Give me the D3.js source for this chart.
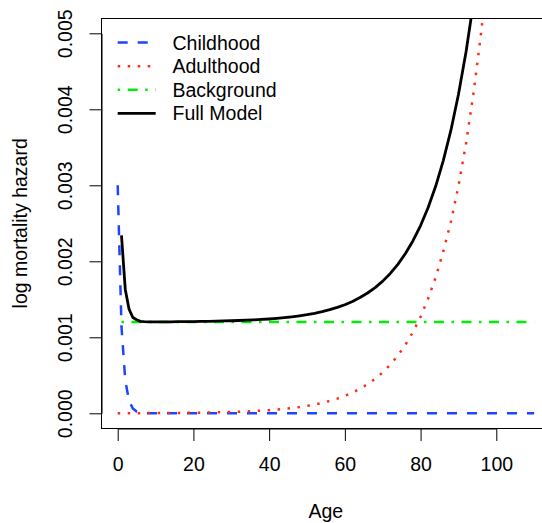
<!DOCTYPE html>
<html>
<head>
<meta charset="utf-8">
<script src="https://cdn.jsdelivr.net/npm/d3@7"></script>
<style>
  html, body { margin: 0; padding: 0; background: #fff; }
  svg { display: block; }
  text { font-family: "Liberation Sans", Arial, Helvetica, sans-serif; fill: #000; }
</style>
</head>
<body>
<svg id="chart" width="542" height="523"></svg>
<script>
// ---------------- data ----------------
const ages = [0,1,2,3,4,5,6,7,8,9,10,
  12,14,16,18,20,22,24,26,28,30,32,34,36,38,40,42,44,46,48,50,
  52,54,56,58,60,62,64,66,68,70,72,74,76,78,80,82,84,86,88,90,
  92,94,96,98,100,102,104,106,108,110];

const childhood = [0.003,0.00114,0.000432,0.000164,0.0000623,0.0000236,0.000009,0.0000034,0.0000013,0.0000005,0.0000002,
  0,0,0,0,0,0,0,0,0,0,0,0,0,0,0,0,0,0,0,0,
  0,0,0,0,0,0,0,0,0,0,0,0,0,0,0,0,0,0,0,0,
  0,0,0,0,0,0,0,0,0,0];

const adulthood = [0.0000013,0.00000146,0.00000159,0.00000173,0.00000189,0.00000206,0.00000224,0.00000244,0.00000266,0.0000029,0.00000316,
  0.00000375,0.00000445,0.00000528,0.00000627,0.00000744,0.00000883,0.0000105,0.0000124,0.0000148,0.0000175,
  0.0000208,0.0000247,0.0000293,0.0000348,0.0000413,0.000049,0.0000581,0.000069,0.0000819,0.0000972,
  0.000115,0.000137,0.000163,0.000193,0.000229,0.000272,0.000323,0.000383,0.000454,0.000539,
  0.00064,0.00076,0.000902,0.00107,0.00127,0.00151,0.00179,0.00213,0.00252,0.00299,
  0.00355,0.00422,0.00501,0.00594,0.00705,0.00837,0.00994,0.0118,0.014,0.0166];

const background = [null,0.0012,0.0012,0.0012,0.0012,0.0012,0.0012,0.0012,0.0012,0.0012,0.0012,
  0.0012,0.0012,0.0012,0.0012,0.0012,0.0012,0.0012,0.0012,0.0012,0.0012,
  0.0012,0.0012,0.0012,0.0012,0.0012,0.0012,0.0012,0.0012,0.0012,0.0012,
  0.0012,0.0012,0.0012,0.0012,0.0012,0.0012,0.0012,0.0012,0.0012,0.0012,
  0.0012,0.0012,0.0012,0.0012,0.0012,0.0012,0.0012,0.0012,0.0012,0.0012,
  0.0012,0.0012,0.0012,0.0012,0.0012,0.0012,0.0012,0.0012,0.0012,0.0012];

const fullModel = [null,0.00234,0.00163,0.00137,0.00126,0.00123,0.00121,0.001206,0.001204,0.001203,0.001203,
  0.001204,0.001204,0.001205,0.001206,0.001207,0.001209,0.00121,0.001212,0.001215,0.001218,
  0.001221,0.001225,0.001229,0.001235,0.001241,0.001249,0.001258,0.001269,0.001282,0.001297,
  0.001315,0.001337,0.001363,0.001393,0.001429,0.001472,0.001523,0.001583,0.001654,0.001739,
  0.00184,0.00196,0.002102,0.002271,0.002471,0.002708,0.00299,0.003325,0.003722,0.004194,
  0.004753,0.005418,0.006206,0.007143,0.008254,0.00957,0.01114,0.013,0.0152,0.0178];

const xTicks = [0,20,40,60,80,100];
const yTicks = [0,0.001,0.002,0.003,0.004,0.005];
const yTickLabels = ["0.000","0.001","0.002","0.003","0.004","0.005"];
const seriesNames = ["Childhood","Adulthood","Background","Full Model"];

// ---------------- layout ----------------
const FS = 19.5;
const box = { left: 101.5, top: 18.5, bottom: 428.5, right: 550 };
const x = d3.scaleLinear().domain([0, 100]).range([117.7, 496.3]);
const y = d3.scaleLinear().domain([0, 0.005]).range([413.3, 33.3]);

const styles = [
  { color: "#1d44ff", dash: "10,10", width: 2.5 },
  { color: "#ff2d14", dash: "2.5,7.5", width: 2.5 },
  { color: "#00ee00", dash: "2.5,7.5,10,7.5", width: 2.5 },
  { color: "#000000", dash: null, width: 2.8 }
];
const seriesData = [childhood, adulthood, background, fullModel];

const svg = d3.select("#chart");

svg.append("defs").append("clipPath").attr("id", "plotclip")
  .append("rect")
  .attr("x", box.left).attr("y", box.top)
  .attr("width", box.right - box.left).attr("height", box.bottom - box.top);

// lines
const plot = svg.append("g").attr("clip-path", "url(#plotclip)");
seriesData.forEach((vals, i) => {
  const pts = ages.map((a, k) => [a, vals[k]]);
  const line = d3.line()
    .defined(d => d[1] !== null)
    .x(d => x(d[0]))
    .y(d => y(d[1]));
  plot.append("path")
    .datum(pts)
    .attr("d", line)
    .attr("fill", "none")
    .attr("stroke", styles[i].color)
    .attr("stroke-width", styles[i].width)
    .attr("stroke-dasharray", styles[i].dash)
    .attr("stroke-linejoin", "round");
});

// box
svg.append("rect")
  .attr("x", box.left).attr("y", box.top)
  .attr("width", box.right - box.left).attr("height", box.bottom - box.top)
  .attr("fill", "none").attr("stroke", "#000").attr("stroke-width", 1);

// x axis
const gx = svg.append("g")
  .attr("transform", `translate(0,${box.bottom})`)
  .call(d3.axisBottom(x).tickValues(xTicks).tickSize(12.5).tickSizeOuter(0).tickFormat(d3.format("d")));
gx.select(".domain").attr("stroke", "#000");
gx.selectAll(".tick line").attr("stroke", "#000");
gx.selectAll(".tick text")
  .attr("y", 42.2).attr("dy", null)
  .attr("font-size", FS)
  .attr("font-family", "Liberation Sans, Arial, sans-serif")
  .attr("fill", "#000");

// y axis
const gy = svg.append("g")
  .attr("transform", `translate(${box.left},0)`)
  .call(d3.axisLeft(y).tickValues(yTicks).tickSize(12).tickSizeOuter(0)
    .tickFormat((d, i) => yTickLabels[i]));
gy.select(".domain").attr("stroke", "#000");
gy.selectAll(".tick line").attr("stroke", "#000");
gy.selectAll(".tick text")
  .attr("x", null).attr("dy", null)
  .attr("text-anchor", "middle")
  .attr("transform", "translate(-29.8,0) rotate(-90)")
  .attr("font-size", FS)
  .attr("font-family", "Liberation Sans, Arial, sans-serif")
  .attr("fill", "#000");

// axis titles
svg.append("text")
  .attr("x", 325.8).attr("y", 518)
  .attr("text-anchor", "middle")
  .attr("font-size", FS)
  .text("Age");
svg.append("text")
  .attr("transform", `translate(26.7,223.3) rotate(-90)`)
  .attr("text-anchor", "middle")
  .attr("font-size", FS)
  .text("log mortality hazard");

// legend
const legend = svg.append("g");
const legY0 = 42.5, legStep = 23.65;
seriesNames.forEach((name, i) => {
  const ly = legY0 + i * legStep;
  legend.append("line")
    .attr("x1", 117.7).attr("x2", 155.7)
    .attr("y1", ly).attr("y2", ly)
    .attr("stroke", styles[i].color)
    .attr("stroke-width", styles[i].width)
    .attr("stroke-dasharray", styles[i].dash);
  legend.append("text")
    .attr("x", 172.5).attr("y", ly + 7)
    .attr("font-size", FS)
    .text(name);
});
</script>
</body>
</html>
